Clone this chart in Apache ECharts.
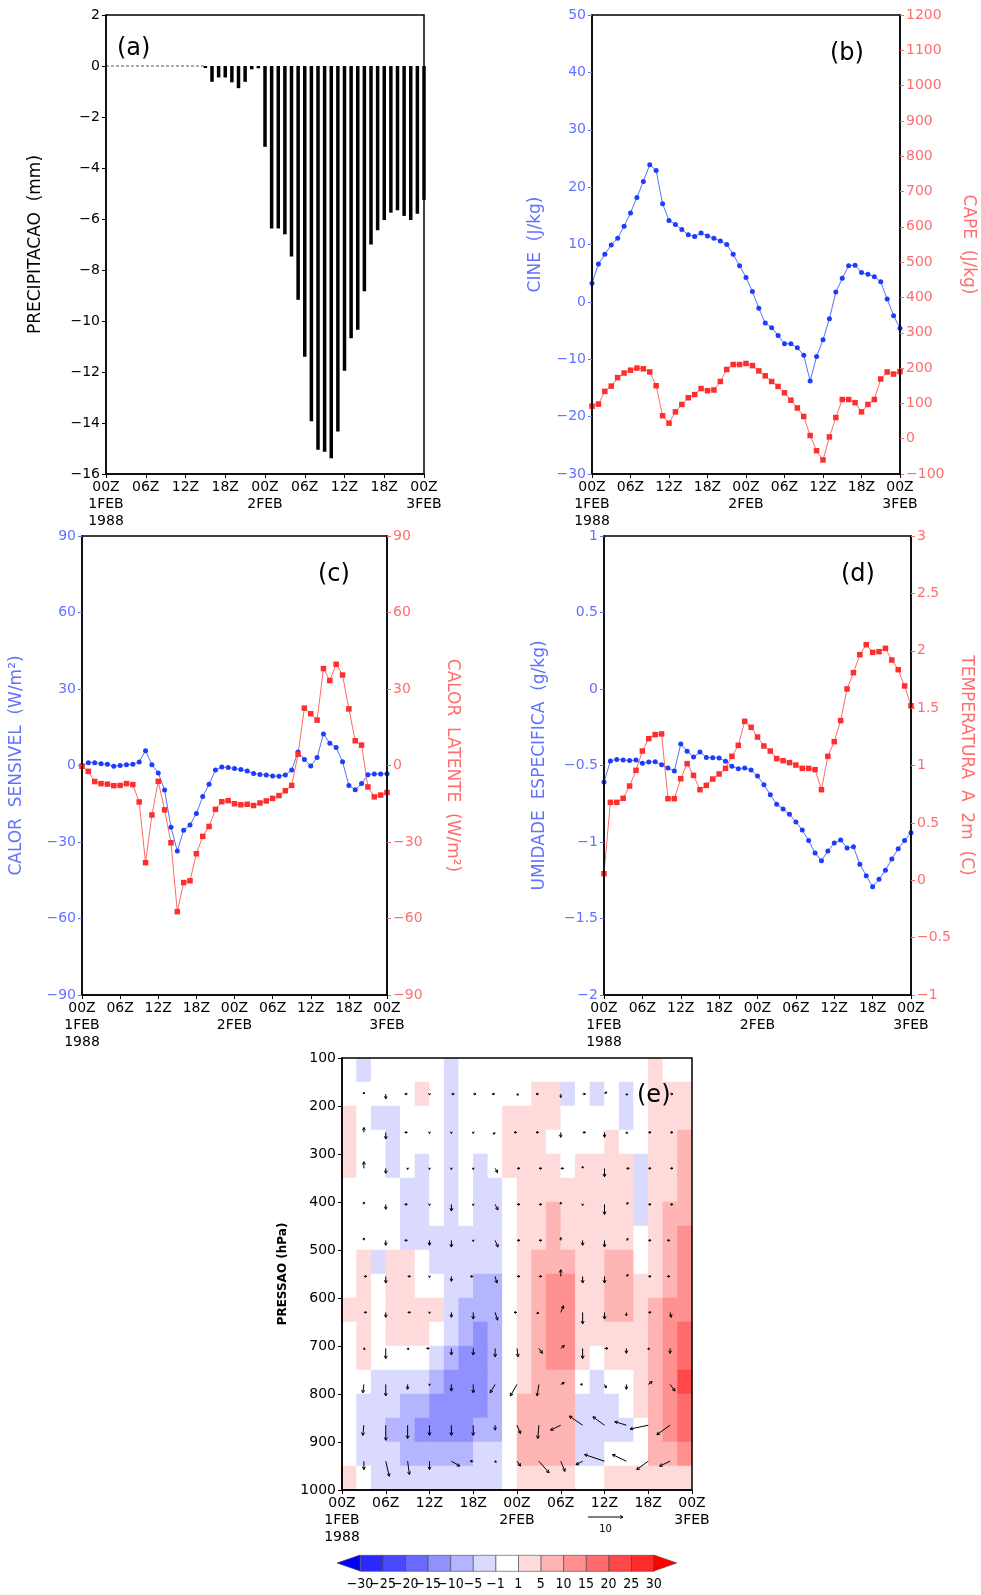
<!DOCTYPE html>
<html>
<head>
<meta charset="utf-8">
<script src="https://cdn.jsdelivr.net/npm/echarts@6/dist/echarts.min.js"></script>
<style>
html, body { margin: 0; padding: 0; background: #fff; }
#chart { width: 981px; height: 1595px; }
</style>
</head>
<body>
<div id="chart"></div>
<script>
// hourly series, index = hours since 00Z 1FEB 1988
const dayLabels = ['1FEB', '2FEB', '3FEB'];
const yearLabel = '1988';

const precip = [0, 0, 0, 0, 0, 0, 0, 0, 0, 0, 0, 0, 0, 0, 0, -0.08, -0.62, -0.45, -0.45, -0.64,
  -0.87, -0.62, -0.13, -0.09, -3.17, -6.37, -6.37, -6.6, -7.47, -9.17, -11.4, -13.93, -15.05, -15.13,
  -15.38, -14.33, -11.95, -10.68, -10.34, -8.83, -7.0, -6.44, -6.04, -5.75, -5.66, -5.88, -6.04, -5.79, -5.25];

const cine = [3.25, 6.6, 8.3, 9.9, 11.1, 13.2, 15.5, 18.2, 21.0, 23.9, 22.9, 17.1, 14.2, 13.5, 12.6, 11.7,
  11.4, 12.0, 11.5, 11.1, 10.6, 10.0, 8.3, 6.3, 4.25, 1.8, -1.1, -3.7, -4.5, -5.85, -7.3, -7.3, -8.0, -9.3,
  -13.8, -9.5, -6.6, -2.95, 1.7, 4.1, 6.3, 6.4, 5.1, 4.8, 4.4, 3.5, 0.5, -2.4, -4.6];
const cape = [92, 98, 134, 149, 173, 186, 194, 200, 198, 189, 150, 65, 44, 76, 97, 116, 125, 142, 136, 138,
  162, 196, 210, 210, 213, 207, 192, 178, 162, 148, 130, 109, 87, 63, 9, -34, -60, 5, 60, 111,
  111, 102, 76, 97, 111, 169, 189, 183, 190];

const sensivel = [0, 1.1, 1.1, 0.7, 0.5, -0.3, 0, 0.3, 0.5, 1.4, 5.8, 0.3, -2.9, -9.6, -24.2, -33.5, -25.4,
  -23.3, -18.8, -12.2, -7.4, -1.8, -0.6, -0.8, -1.2, -1.6, -2.2, -3.1, -3.5, -3.7, -4.1, -4.2, -3.7, -1.8,
  5.3, 2.4, -0.2, 3.1, 12.4, 8.7, 7.1, 1.5, -7.8, -9.5, -7.1, -3.6, -3.3, -3.3, -3.2];
const latente = [-0.3, -2.3, -6.3, -7.1, -7.3, -7.9, -7.8, -7.1, -7.5, -14.3, -38.1, -19.4, -6.2, -17.4,
  -30.3, -57.3, -45.9, -45.2, -34.6, -27.8, -23.9, -17.2, -14.2, -13.8, -15.0, -15.4, -15.2, -15.7, -14.7,
  -13.9, -12.9, -11.8, -9.9, -7.8, 4.4, 22.5, 20.3, 17.8, 38.0, 33.3, 39.7, 35.5, 22.2, 9.7, 8.0, -8.4,
  -12.3, -11.6, -10.6];

const umidade = [-0.608, -0.47, -0.46, -0.464, -0.468, -0.464, -0.486, -0.477, -0.475, -0.495, -0.516,
  -0.536, -0.36, -0.407, -0.444, -0.412, -0.447, -0.449, -0.451, -0.473, -0.505, -0.521, -0.516, -0.529,
  -0.569, -0.625, -0.691, -0.754, -0.784, -0.819, -0.869, -0.922, -0.991, -1.072, -1.122, -1.059, -1.007,
  -0.987, -1.039, -1.031, -1.146, -1.22, -1.292, -1.244, -1.185, -1.111, -1.044, -0.991, -0.939];
const temp2m = [0.057, 0.679, 0.679, 0.714, 0.821, 0.958, 1.126, 1.234, 1.269, 1.275, 0.711, 0.711, 0.885,
  1.016, 0.914, 0.789, 0.827, 0.882, 0.926, 0.975, 1.08, 1.176, 1.385, 1.333, 1.248, 1.17, 1.126, 1.06,
  1.042, 1.025, 1.004, 0.975, 0.975, 0.964, 0.789, 1.08, 1.208, 1.391, 1.667, 1.809, 1.966, 2.053, 1.986,
  1.992, 2.021, 1.919, 1.835, 1.693, 1.521];

// panel (e): shaded field, 2 h x 50 hPa cells
const fieldHours = [1, 3, 5, 7, 9, 11, 13, 15, 17, 19, 21, 23, 25, 27, 29, 31, 33, 35, 37, 39, 41, 43, 45, 47];
const fieldLevels = [125, 175, 225, 275, 325, 375, 425, 475, 525, 575, 625, 675, 725, 775, 825, 875, 925, 975];
const fieldRows = [
  [0, -3, 0, 0, 0, 0, 0, -3, 0, 0, 0, 0, 0, 0, 0, 0, 0, 0, 0, 0, 0, 3, 0, 0],
  [0, 0, 0, 0, 0, 3, 0, -3, 0, 0, 0, 0, 0, 3, 3, -3, 0, -3, 0, -3, 0, 3, 3, 3],
  [3, 0, -3, -3, 0, 0, 0, -3, 0, 0, 0, 3, 3, 3, 3, 0, 0, 0, 0, -3, 0, 3, 3, 3],
  [3, 0, 0, -3, 0, 0, 0, -3, 0, 0, 0, 3, 3, 3, 0, 0, 0, 0, 3, 0, 0, 3, 3, 7],
  [3, 0, 0, -3, 0, -3, 0, -3, 0, -3, 0, 3, 3, 3, 3, 0, 3, 3, 3, 3, -3, 3, 3, 7],
  [0, 0, 0, 0, -3, -3, 0, -3, 0, -3, -3, 0, 3, 3, 3, 3, 3, 3, 3, 3, -3, 3, 3, 7],
  [0, 0, 0, 0, -3, -3, 0, -3, 0, -3, -3, 0, 3, 3, 7, 3, 3, 3, 3, 3, -3, 3, 7, 7],
  [0, 0, 0, 0, -3, -3, -3, -3, -3, -3, -3, 0, 3, 3, 7, 3, 3, 3, 3, 3, 0, 3, 7, 12],
  [0, 3, -3, 3, 3, 0, -3, -3, -3, -3, -3, 0, 3, 7, 7, 7, 3, 3, 7, 7, 0, 3, 7, 12],
  [0, 3, 0, 3, 3, 0, 0, -3, -3, -7, -7, 0, 3, 7, 12, 12, 3, 3, 7, 7, 3, 3, 7, 12],
  [3, 3, 0, 3, 3, 3, 3, -3, -7, -7, -7, 0, 3, 7, 12, 12, 3, 3, 7, 7, 3, 7, 12, 12],
  [0, 3, 0, 3, 3, 3, 0, -3, -7, -12, -7, 0, 3, 7, 12, 12, 3, 3, 3, 3, 3, 7, 12, 17],
  [0, 3, 0, 0, 0, 0, -3, -7, -12, -12, -7, 0, 3, 7, 12, 12, 3, 0, 3, 3, 3, 7, 12, 17],
  [0, 0, -3, -3, -3, -3, -7, -12, -12, -12, -7, 0, 3, 7, 7, 7, 0, -3, 0, 0, 3, 7, 12, 22],
  [0, -3, -3, -3, -7, -7, -12, -12, -12, -12, -7, 0, 7, 7, 7, 7, -3, -3, -3, 0, 3, 7, 12, 17],
  [0, -3, -3, -7, -7, -12, -12, -12, -12, -7, -7, 0, 7, 7, 7, 7, -3, -3, -3, -3, 0, 7, 12, 17],
  [0, -3, -3, -3, -7, -7, -7, -7, -7, -3, -3, 0, 7, 7, 7, 7, -3, -3, 0, 0, 0, 7, 7, 12],
  [3, 0, -3, -3, -3, -3, -3, -3, -3, -3, -3, 0, 3, 3, 3, 3, 0, 0, 3, 3, 3, 3, 3, 3]
];

// panel (e): wind vectors (u to the right, w downward), reference arrow = 10
const vecHours = [3, 6, 9, 12, 15, 18, 21, 24, 27, 30, 33, 36, 39, 42, 45];
const vecLevels = [175, 255, 330, 405, 480, 555, 630, 705, 780, 865, 940];
const vecU = [
  [0, 0, -0.8, 0, 0.8, 0.8, -0.8, 0.4, -0.8, 0, 0.8, 0.6, 0.3, 0.8, 0.8],
  [0, 0, -0.8, 0, 0, 0, -0.5, -0.8, -0.8, 0, 0.8, 0, 0.3, 0.8, 0.8],
  [0, 0, 0, 0, 0, 0, 0.7, 0.8, 0.8, 0.8, 0, 0, 0.8, 0.8, 0.8],
  [0, 0, -0.8, 0, 0, 0, 0.8, 0.8, 0.8, 0, 0, 0, 0.5, 0.8, 0.8],
  [0, 0, -0.8, 0, 0, 0, 0.8, 0.8, 0.8, 0, 0, 0, 0.5, 0.8, -0.8],
  [0.8, 0, 0.8, 0, 0, -0.8, 0.5, 0.8, 0.8, 0, 0, 0, 0.5, 0.8, -0.8],
  [0.8, 0, 0.8, 0, 0, 0, 0.7, -0.8, -0.6, 0.8, 0, 0, 0, 0.8, 0.3],
  [0.3, 0, 0.3, -0.8, 0, 0, 0, 0.3, 1.0, 1.0, 0, 1.0, 0, 0.3, 0],
  [-0.3, 0, 0, 0, 0, 0, -1.4, -1.9, -0.5, 1.0, -0.6, 0.5, 0, 1.1, 1.4],
  [-0.3, 0, 0, 0, 0, 0, 0, 1.0, -0.3, -2.9, -3.8, -3.3, -3.3, -5.2, -3.8],
  [0, 1.0, 0.5, 0, 2.4, -0.8, 0.3, 1.0, 2.9, 1.2, -1.9, -5.7, -4.0, -3.3, -3.0]
];
const vecW = [
  [-0.5, 1.4, 0, 0.3, 0, 0, 0, 0.3, 0, 1.0, 0, -0.6, 0.3, 0, 0],
  [-1.4, 1.9, 0, 0.3, 0.3, 0.3, 0.5, 0, 0, 1.4, 0, 1.4, 0.3, 0, 0],
  [-1.9, 1.4, 0.3, 0.3, 0.3, 0.3, 1.2, 0, 0, 0, -0.6, 2.4, 0, 0, 0],
  [-0.7, 1.4, 0, 0.3, 1.9, 0.3, 1.6, 0, 0, -0.6, 0.3, 2.9, -0.5, 0, 0],
  [-0.7, 1.4, 0, 1.4, 1.9, 0.3, 1.9, 0, 0, -0.8, 1.4, 1.9, -0.5, 0, 0],
  [0, 1.9, 0, 0.3, 1.4, 0, 1.9, 0, 0, -1.9, 1.9, 1.9, -0.5, 0, 0],
  [0, 1.4, 0, 0.3, 1.4, 1.9, 2.2, 0, 0.3, -1.9, 3.3, 1.9, 1.0, 0, 1.4],
  [0.3, 2.9, 0.3, 0, 1.9, 1.9, 2.4, 2.4, 1.4, -0.8, 2.9, 0, 1.4, 0.3, 1.4],
  [2.4, 3.3, 1.4, 0.3, 1.9, 2.4, 2.4, 3.3, 3.3, -0.5, 0, 1.0, 1.4, -0.8, 1.9],
  [2.9, 4.3, 3.8, 2.9, 2.9, 2.9, 1.4, 2.4, 3.8, 1.4, -2.6, -2.4, -1.0, 1.1, 2.7],
  [2.4, 4.3, 3.8, 2.4, 1.4, 0, 0.3, 1.4, 3.3, 2.9, 1.0, -1.9, -1.9, 2.4, 1.4]
];
const refVector = 10;

// shading levels and colours (one more colour than levels)
const levels = [-30, -25, -20, -15, -10, -5, -1, 1, 5, 10, 15, 20, 25, 30];
const shadeColors = ['#0000ff', '#2a2aff', '#4848ff', '#6a6aff', '#9090ff', '#b4b4ff', '#dadaff', '#ffffff',
  '#ffdada', '#ffb4b4', '#ff9090', '#ff6a6a', '#ff4848', '#ff2a2a', '#ff0000'];

const FONT = 'DejaVu Sans';
const BLUE_TXT = '#6272ff', RED_TXT = '#ff6e6e';
const BLUE_LINE = '#5570ff', BLUE_PT = '#1d3cff';
const RED_LINE = '#ff6868', RED_PT = '#ff2e2e';
const VEC_PX = 3.5;

const minus = v => String(v).replace('-', '\u2212');

function timeLabel(v) {
  const hh = v % 24;
  let s = (hh < 10 ? '0' : '') + hh + 'Z';
  if (hh === 0) {
    s += '\n' + dayLabels[v / 24];
    if (v === 0) s += '\n' + yearLabel;
  }
  return s;
}

function timeAxis(gi) {
  return {
    type: 'value', gridIndex: gi, min: 0, max: 48, interval: 6, z: 6,
    axisLine: { show: true, onZero: false, lineStyle: { color: '#000', width: 1.5 } },
    axisTick: { show: true, length: 4, lineStyle: { color: '#000' } },
    splitLine: { show: false },
    axisLabel: { formatter: timeLabel, color: '#000', fontSize: 14, fontFamily: FONT, lineHeight: 17,
      margin: 5, showMinLabel: true, showMaxLabel: true }
  };
}

function valAxis(gi, pos, min, max, step, name, color, gap, extra) {
  return Object.assign({
    type: 'value', gridIndex: gi, position: pos, min: min, max: max, interval: step, z: 6,
    name: name, nameLocation: 'middle', nameGap: gap, nameRotate: pos === 'right' ? -90 : 90,
    nameTextStyle: { color: color, fontSize: 17, fontFamily: FONT },
    axisLine: { show: true, onZero: false, lineStyle: { color: '#000', width: 1.5 } },
    axisTick: { show: true, length: 4, lineStyle: { color: color } },
    splitLine: { show: false },
    axisLabel: { formatter: minus, color: color, fontSize: 14, fontFamily: FONT, margin: 6,
      showMinLabel: true, showMaxLabel: true }
  }, extra || {});
}

function lineSeries(xi, yi, vals, symbol, size, ptColor, lnColor) {
  return {
    type: 'line', xAxisIndex: xi, yAxisIndex: yi, data: vals.map((v, i) => [i, v]),
    symbol: symbol, symbolSize: size, itemStyle: { color: ptColor },
    lineStyle: { color: lnColor, width: 1 }, z: 3, silent: true
  };
}

// dashed zero line drawn where no rain fell
const dry = precip.map((v, i) => [i, (v === 0 || (i > 0 && precip[i - 1] === 0)) ? 0 : null]);

const heatData = [];
fieldRows.forEach((row, r) => row.forEach((v, c) => heatData.push([c, r, v])));

const vecData = [];
vecLevels.forEach((p, r) => vecHours.forEach((h, c) => vecData.push([h, p, vecU[r][c], vecW[r][c]])));

const pieces = shadeColors.map((col, i) => {
  if (i === 0) return { lt: levels[0], color: col };
  if (i === levels.length) return { gte: levels[levels.length - 1], color: col };
  return { gte: levels[i - 1], lt: levels[i], color: col };
});

function arrowShape(x0, y0, dx, dy) {
  const ex = x0 + dx, ey = y0 + dy;
  const len = Math.hypot(dx, dy);
  const ang = Math.atan2(dy, dx);
  const hs = Math.min(3.2, Math.max(2, len * 0.6));
  return [
    { type: 'line', shape: { x1: x0, y1: y0, x2: ex, y2: ey }, style: { stroke: '#000', lineWidth: 1 } },
    { type: 'polyline', shape: { points: [
      [ex - hs * Math.cos(ang - 0.5), ey - hs * Math.sin(ang - 0.5)], [ex, ey],
      [ex - hs * Math.cos(ang + 0.5), ey - hs * Math.sin(ang + 0.5)]] },
      style: { stroke: '#000', fill: null, lineWidth: 1 } }
  ];
}

// colour bar under panel (e)
const cbLeft = 360, cbSeg = 22.6, cbTop = 1555, cbH = 16;
const cbGraphics = [];
for (let i = 1; i < levels.length; i++) {
  cbGraphics.push({ type: 'rect', left: cbLeft + (i - 1) * cbSeg, top: cbTop,
    shape: { width: cbSeg, height: cbH }, style: { fill: shadeColors[i], stroke: '#444', lineWidth: 0.6 } });
}
const cbRight = cbLeft + (levels.length - 1) * cbSeg;
cbGraphics.push({ type: 'polygon', shape: { points: [[cbLeft, cbTop], [cbLeft - 23, cbTop + cbH / 2], [cbLeft, cbTop + cbH]] },
  style: { fill: shadeColors[0], stroke: '#444', lineWidth: 0.6 } });
cbGraphics.push({ type: 'polygon', shape: { points: [[cbRight, cbTop], [cbRight + 23, cbTop + cbH / 2], [cbRight, cbTop + cbH]] },
  style: { fill: shadeColors[shadeColors.length - 1], stroke: '#444', lineWidth: 0.6 } });
levels.forEach((lv, i) => {
  cbGraphics.push({ type: 'text', x: cbLeft + i * cbSeg, y: 1584,
    style: { text: minus(lv), fill: '#000', font: '14px "DejaVu Sans Condensed", "DejaVu Sans"', align: 'center', verticalAlign: 'middle' } });
});

// reference vector
const refLen = refVector * VEC_PX;
const refGraphics = arrowShape(588, 1517, refLen, 0).map(g => Object.assign(g, { silent: true }));
refGraphics.push({ type: 'text', x: 588 + refLen / 2, y: 1529,
  style: { text: String(refVector), fill: '#000', font: '10px "DejaVu Sans"', align: 'center', verticalAlign: 'middle' } });

const panelLabels = [['(a)', 117, 37], ['(b)', 830, 42], ['(c)', 318, 563], ['(d)', 841, 563], ['(e)', 637, 1084]]
  .map(([t, x, y]) => ({ type: 'text', left: x, top: y, z: 20,
    style: { text: t, fill: '#000', font: '24px "DejaVu Sans"' } }));

const gridBox = { show: true, borderColor: '#000', borderWidth: 1.5, backgroundColor: 'transparent' };

const chart = echarts.init(document.getElementById('chart'));
chart.setOption({
  animation: false,
  textStyle: { fontFamily: FONT },
  grid: [
    Object.assign({ left: 106, top: 15, width: 318, height: 459 }, gridBox),
    Object.assign({ left: 592, top: 15, width: 308, height: 459 }, gridBox),
    Object.assign({ left: 82, top: 536, width: 305, height: 459 }, gridBox),
    Object.assign({ left: 604, top: 536, width: 307, height: 459 }, gridBox),
    { show: false, left: 342, top: 1058, width: 350, height: 432 },
    Object.assign({ left: 342, top: 1058, width: 350, height: 432, z: 6 }, gridBox)
  ],
  xAxis: [
    timeAxis(0), timeAxis(1), timeAxis(2), timeAxis(3),
    { type: 'category', gridIndex: 4, data: fieldHours.map(String), show: false },
    timeAxis(5)
  ],
  yAxis: [
    valAxis(0, 'left', -16, 2, 2, 'PRECIPITACAO  (mm)', '#000', 62),
    valAxis(1, 'left', -30, 50, 10, 'CINE  (J/kg)', BLUE_TXT, 48),
    valAxis(1, 'right', -100, 1200, 100, 'CAPE  (J/kg)', RED_TXT, 60),
    valAxis(2, 'left', -90, 90, 30, 'CALOR  SENSIVEL  (W/m\u00b2)', BLUE_TXT, 57),
    valAxis(2, 'right', -90, 90, 30, 'CALOR  LATENTE  (W/m\u00b2)', RED_TXT, 57),
    valAxis(3, 'left', -2, 1, 0.5, 'UMIDADE  ESPECIFICA  (g/kg)', BLUE_TXT, 56),
    valAxis(3, 'right', -1, 3, 0.5, 'TEMPERATURA  A  2m  (C)', RED_TXT, 47),
    { type: 'category', gridIndex: 4, data: fieldLevels.map(String), inverse: true, show: false },
    valAxis(5, 'left', 100, 1000, 100, 'PRESSAO (hPa)', '#000', 53, {
      inverse: true,
      nameTextStyle: { color: '#000', fontSize: 12, fontWeight: 'bold', fontFamily: FONT }
    })
  ],
  visualMap: {
    type: 'piecewise', show: false, seriesIndex: 8, dimension: 2, pieces: pieces
  },
  series: [
    { type: 'bar', xAxisIndex: 0, yAxisIndex: 0, data: precip.map((v, i) => [i, v]), barWidth: 3.5,
      itemStyle: { color: '#000' }, clip: true, silent: true },
    { type: 'line', xAxisIndex: 0, yAxisIndex: 0, data: dry, symbol: 'none', connectNulls: false,
      lineStyle: { color: '#555', width: 1, type: [3, 2] }, silent: true },
    lineSeries(1, 1, cine, 'circle', 5, BLUE_PT, BLUE_LINE),
    lineSeries(1, 2, cape, 'rect', 5.5, RED_PT, RED_LINE),
    lineSeries(2, 3, sensivel, 'circle', 5, BLUE_PT, BLUE_LINE),
    lineSeries(2, 4, latente, 'rect', 5.5, RED_PT, RED_LINE),
    lineSeries(3, 5, umidade, 'circle', 5, BLUE_PT, BLUE_LINE),
    lineSeries(3, 6, temp2m, 'rect', 5.5, RED_PT, RED_LINE),
    { type: 'heatmap', xAxisIndex: 4, yAxisIndex: 7, data: heatData, z: 1, silent: true,
      itemStyle: { borderWidth: 0 }, progressive: 0 },
    { type: 'custom', xAxisIndex: 5, yAxisIndex: 8, data: vecData, z: 7, silent: true,
      renderItem: function (params, api) {
        const pt = api.coord([api.value(0), api.value(1)]);
        const dx = api.value(2) * VEC_PX, dy = api.value(3) * VEC_PX;
        if (Math.hypot(dx, dy) < 0.2) {
          return { type: 'circle', shape: { cx: pt[0], cy: pt[1], r: 0.8 }, style: { fill: '#000' } };
        }
        return { type: 'group', children: arrowShape(pt[0], pt[1], dx, dy) };
      } }
  ],
  graphic: cbGraphics.concat(refGraphics, panelLabels)
});
</script>
</body>
</html>
